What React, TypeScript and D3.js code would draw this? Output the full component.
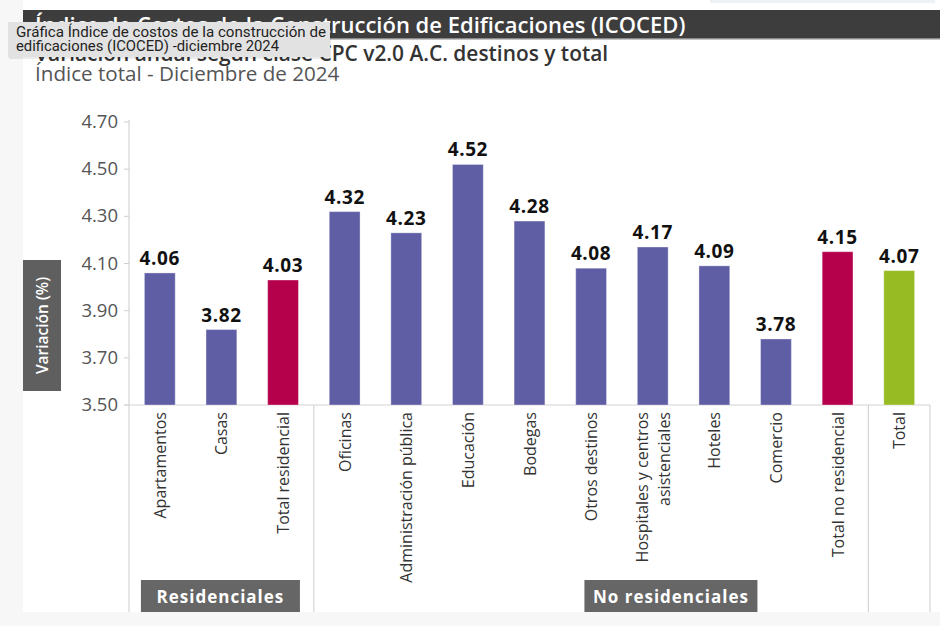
import React from 'react'
import * as d3 from 'd3'

const categories = [
  'Apartamentos',
  'Casas',
  'Total residencial',
  'Oficinas',
  'Administración pública',
  'Educación',
  'Bodegas',
  'Otros destinos',
  'Hospitales y centros|asistenciales',
  'Hoteles',
  'Comercio',
  'Total no residencial',
  'Total',
]
const values = [4.06, 3.82, 4.03, 4.32, 4.23, 4.52, 4.28, 4.08, 4.17, 4.09, 3.78, 4.15, 4.07]
const kinds = ['d', 'd', 's', 'd', 'd', 'd', 'd', 'd', 'd', 'd', 'd', 's', 't']
const yTicks = [3.5, 3.7, 3.9, 4.1, 4.3, 4.5, 4.7]
const groupNames = ['Residenciales', 'No residenciales']
const groupStart = [0, 3]
const groupEnd = [2, 11]

const FONT = "'Open Sans', 'Noto Sans', sans-serif"
const colors: Record<string, string> = { d: '#5f5ea5', s: '#b5004b', t: '#97bb22' }

const App = () => {
  const width = 940
  const height = 626
  const baseY = 405

  const x = d3.scaleBand().domain(categories).range([129, 930]).paddingInner(0.5).paddingOuter(0.25)
  const y = d3.scaleLinear().domain([3.5, 4.7]).range([baseY, 122])
  const step = x.step()
  const edge = (i: number) => x(categories[i])! - step * x.paddingInner() / 2

  // label boxes under the groups
  const groupBoxes = groupNames.map((name, i) => {
    const w = i === 0 ? 159 : 173
    const cx = i === 0 ? (edge(groupStart[i]) + edge(groupEnd[i] + 1)) / 2 - 1 : edge(8) + 49
    return { name, x0: cx - w / 2, w, cx }
  })

  return (
    <svg width={width} height={height} style={{ position: 'absolute', left: 0, top: 0 }} fontFamily={FONT}>
      <rect width={width} height={height} fill="#f7f7f7" />
      <rect x={23} y={0} width={width - 23} height={612} fill="#ffffff" />
      <rect x={710} y={0} width={225} height={3} fill="#eef2f7" />

      {/* header bar */}
      <rect x={23} y={10} width={width - 23} height={29} fill="#3d3d3d" />
      <rect x={23} y={38} width={width - 23} height={1.5} fill="#8a8a8a" />
      <text x={35} y={33} fill="#fff" fontSize={22} fontWeight={600}>
        Índice de Costos de la Construcción de Edificaciones (ICOCED)
      </text>

      <text x={35} y={61} fill="#333" fontSize={20.9} fontWeight={600}>
        Variación anual según clase CPC v2.0 A.C. destinos y total
      </text>
      <text x={35} y={81} fill="#555" fontSize={20.6}>
        Índice total - Diciembre de 2024
      </text>

      {/* tooltip */}
      <rect x={9} y={24} width={322} height={35} fill="#000" opacity={0.08} />
      <rect x={8} y={22} width={322} height={35} fill="#e2e2e2" />
      <text
        x={16}
        y={37}
        fill="#222"
        fontSize={14}
        textLength={310}
        lengthAdjust="spacingAndGlyphs"
        fontFamily="'Liberation Sans Narrow', Roboto, sans-serif"
      >
        Gráfica Índice de costos de la construcción de
      </text>
      <text
        x={16}
        y={51}
        fill="#222"
        fontSize={14}
        textLength={263}
        lengthAdjust="spacingAndGlyphs"
        fontFamily="'Liberation Sans Narrow', Roboto, sans-serif"
      >
        edificaciones (ICOCED) -diciembre 2024
      </text>

      {/* y axis title */}
      <rect x={23} y={260} width={38} height={131} fill="#5f5f5f" />
      <text
        transform={`translate(48,${(260 + 391) / 2}) rotate(-90)`}
        textAnchor="middle"
        fill="#fff"
        fontSize={15.5}
        fontWeight={600}
      >
        Variación (%)
      </text>

      {/* y axis */}
      <line x1={129} x2={129} y1={120} y2={612} stroke="#d4d4d4" strokeWidth={1.2} />
      {yTicks.map((t) => (
        <g key={t}>
          <line x1={124} x2={129} y1={y(t)} y2={y(t)} stroke="#cfcfcf" />
          <text x={118} y={y(t) + 6} textAnchor="end" fill="#555" fontSize={18.5}>
            {d3.format('.2f')(t)}
          </text>
        </g>
      ))}
      <line x1={124} x2={930} y1={baseY} y2={baseY} stroke="#d4d4d4" strokeWidth={1.2} />

      {/* separators */}
      {[3, 12].map((i) => (
        <line key={i} x1={edge(i)} x2={edge(i)} y1={baseY} y2={612} stroke="#d4d4d4" strokeWidth={1.2} />
      ))}
      <line x1={930} x2={930} y1={baseY} y2={612} stroke="#d4d4d4" strokeWidth={1.2} />

      {/* bars */}
      {categories.map((c, i) => (
        <g key={c}>
          <rect
            x={x(c)}
            y={y(values[i])}
            width={x.bandwidth()}
            height={baseY - y(values[i])}
            fill={colors[kinds[i]]}
            stroke="#ffffff"
            strokeOpacity={0.35}
            strokeWidth={1}
          />
          <text
            x={x(c)! + x.bandwidth() / 2}
            y={y(values[i]) - 8}
            textAnchor="middle"
            fill="#111"
            fontSize={19}
            fontWeight={700}
            letterSpacing={0.6}
          >
            {d3.format('.2f')(values[i])}
          </text>
        </g>
      ))}

      {/* category labels */}
      {categories.map((c) => {
        const lines = c.split('|')
        const cx = x(c)! + x.bandwidth() / 2
        return lines.map((ln, j) => {
          const off = (j - (lines.length - 1) / 2) * 22
          return (
            <text
              key={c + j}
              transform={`translate(${cx + off + 6},412) rotate(-90)`}
              textAnchor="end"
              fill="#333"
              fontSize={16}
            >
              {ln}
            </text>
          )
        })
      })}

      {/* group labels */}
      {groupBoxes.map((g) => (
        <g key={g.name}>
          <rect x={g.x0} y={580} width={g.w} height={40} fill="#666666" />
          <text
            x={g.cx}
            y={603}
            textAnchor="middle"
            fill="#fff"
            fontSize={17}
            fontWeight={700}
            letterSpacing={1}
          >
            {g.name}
          </text>
        </g>
      ))}

      <rect x={0} y={612} width={width} height={height - 612} fill="#f7f7f7" />
    </svg>
  )
}

export default App
